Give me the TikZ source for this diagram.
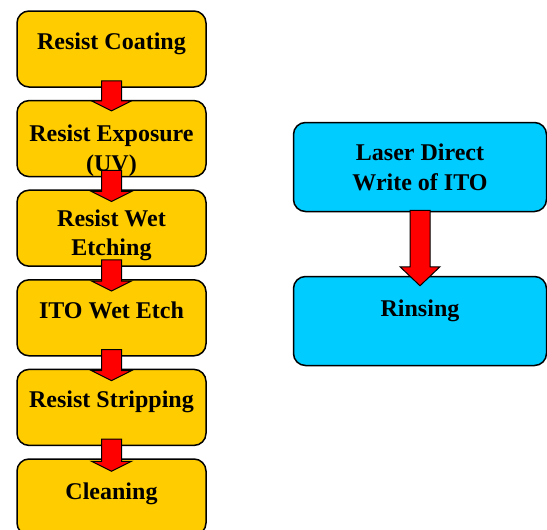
\documentclass[tikz,border=0pt]{standalone}
\usepackage{fontspec}
\setmainfont{Liberation Serif}
\usetikzlibrary{positioning, calc}

\definecolor{resistgold}{HTML}{FFCC00}
\definecolor{lasercyan}{HTML}{00CCFF}

% block arrow: from, to, start above from.south, tip below to.north, head length
\newcommand{\flowarrow}[5]{%
  \draw[blockarrow] ($(#1.south)+(-10,-#3)$) -- ($(#2.north)+(-10,#4-#5)$)
    -- ($(#2.north)+(-20,#4-#5)$) -- ($(#2.north)+(0,#4)$)
    -- ($(#2.north)+(20,#4-#5)$) -- ($(#2.north)+(10,#4-#5)$)
    -- ($(#1.south)+(10,-#3)$) -- cycle;}

\begin{document}
\begin{tikzpicture}[x=0.5pt,y=-0.5pt,node distance=44.8pt,on grid,
      procbox/.style={draw=black,line width=0.75pt,rounded corners=6pt,
        fill=resistgold,minimum width=94.5pt,minimum height=38pt},
      laserbox/.style={procbox,fill=lasercyan,minimum width=126.5pt,minimum height=44.5pt},
      proctext/.style={anchor=north,yshift=-11pt,inner sep=0pt,align=center,
        font=\fontsize{12}{14.6}\selectfont\bfseries},
      blockarrow/.style={draw=black,line width=0.5pt,fill=red,line join=miter}]
  \useasboundingbox (0,0) rectangle (547,530);

  % conventional process
  \node[procbox] (coat) at (111.5,49) {};
  \node[procbox] (expose) [below=of coat] {};
  \node[procbox] (wetres) [below=of expose] {};
  \node[procbox] (itoetch) [below=of wetres] {};
  \node[procbox] (strip) [below=of itoetch] {};
  \node[procbox] (clean) [below=of strip] {};

  \node[proctext] (coat-t) at (coat.north) {Resist Coating};
  \node[proctext] (expose-t) at (expose.north) [yshift=-1.5pt] {Resist Exposure\\(UV)};
  \node[proctext] (wetres-t) at (wetres.north) [yshift=1pt] {Resist Wet\\Etching};
  \node[proctext] (itoetch-t) at (itoetch.north) {ITO Wet Etch};
  \node[proctext] (strip-t) at (strip.north) {Resist Stripping};
  \node[proctext] (clean-t) at (clean.north) [yshift=-1pt] {Cleaning};

  % laser process
  \node[laserbox] (laser) at (420,167) {};
  \node[laserbox] (rinse) [below=77pt of laser] {};
  \node[proctext] (laser-t) at (laser.north) {Laser Direct\\Write of ITO};
  \node[proctext] (rinse-t) at (rinse.north) [yshift=-1pt] {Rinsing};

  \flowarrow{coat}{expose}{7}{11}{10}
  \flowarrow{expose}{wetres}{7}{12}{10}
  \flowarrow{wetres}{itoetch}{7}{12}{10}
  \flowarrow{itoetch}{strip}{7}{12}{10}
  \flowarrow{strip}{clean}{7}{13}{10}
  \flowarrow{laser}{rinse}{2}{10}{19}
\end{tikzpicture}
\end{document}
